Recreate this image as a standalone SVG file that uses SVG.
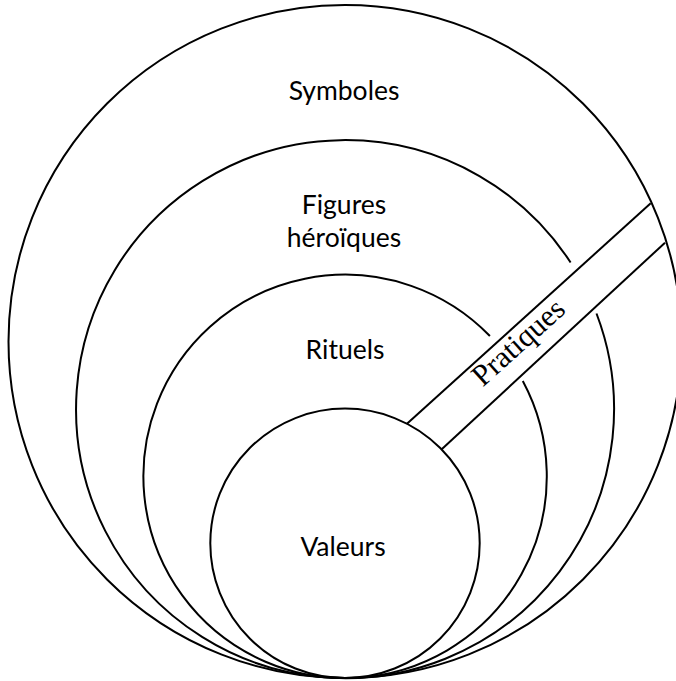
<svg xmlns="http://www.w3.org/2000/svg" width="676" height="681" viewBox="0 0 676 681">
<style>
.ring{fill:none;stroke:#000;stroke-width:2}
.lbl{font-family:Lato,"Open Sans","Liberation Sans",sans-serif;font-size:26.5px;fill:#000;text-anchor:middle}
.band{font-family:"Liberation Serif","Times New Roman",serif;font-size:30.5px;fill:#000;text-anchor:middle}
</style>
<rect width="676" height="681" fill="#fff"/>
<g id="symboles">
<circle class="ring" cx="345" cy="341.5" r="336.5"/>
<text class="lbl" x="344" y="100">Symboles</text>
</g>
<g id="figures">
<path class="ring" d="M596.5,313.5 A269,269 0 1 1 570.6,262.5"/>
<text class="lbl" x="344" y="214">Figures</text>
<text class="lbl" x="344" y="247">héroïques</text>
</g>
<g id="rituels">
<path class="ring" d="M522.8,381 A201.7,201.7 0 1 1 489.9,336"/>
<text class="lbl" x="345" y="359">Rituels</text>
</g>
<g id="valeurs">
<circle class="ring" cx="345" cy="543.3" r="134.7"/>
<text class="lbl" x="343" y="556">Valeurs</text>
</g>
<g id="connectors">
<line class="ring" x1="406.7" y1="424" x2="650.7" y2="203.3"/>
<line class="ring" x1="441.7" y1="449.3" x2="665" y2="242.7"/>
</g>
<g id="pratiques">
<text class="band" transform="translate(525,349.5) rotate(-42)">Pratiques</text>
</g>
</svg>
